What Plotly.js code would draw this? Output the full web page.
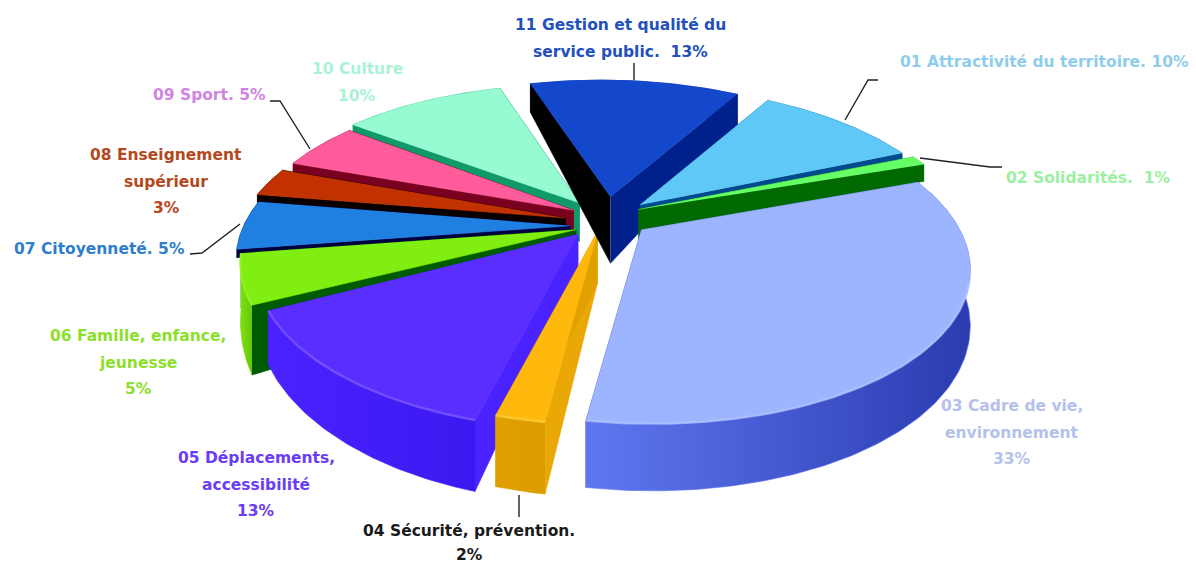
<!DOCTYPE html>
<html>
<head>
<meta charset="utf-8">
<script src="https://cdn.plot.ly/plotly-3.0.1.min.js"></script>
<style>html,body{margin:0;padding:0;background:#fff}#chart{width:1196px;height:565px}</style>
</head>
<body>
<div id="chart"></div>
<script>
// Share of each theme, in percent
const values = [10, 1, 33, 2, 13, 5, 5, 3, 5, 10, 13];
const labels = [
  "01 Attractivité du territoire. {v}",
  "02 Solidarités.  {v}",
  "03 Cadre de vie,|environnement|{v}",
  "04 Sécurité, prévention.|{v}",
  "05 Déplacements,|accessibilité|{v}",
  "06 Famille, enfance,|jeunesse|{v}",
  "07 Citoyenneté. {v}",
  "08 Enseignement|supérieur|{v}",
  "09 Sport. {v}",
  "10 Culture|{v}",
  "11 Gestion et qualité du|service public.  {v}"
];

// Slice styling
const topColors  = ["#5fc8f6","#66ff66","#9db4ff","#ffb80c","#5a2eff","#80ee10","#2080e2","#c23200","#ff5c9c","#96fbd0","#1448cc"];
const textColors = ["#8fcdea","#9df0a2","#b4c1ea","#1a1a1a","#6a3cf5","#8ce02a","#2f7ecb","#b4481c","#d184e2","#a9f2d6","#2350bd"];
const startWall  = ["#004a8f","#006a00","#5a70ea","#eaa806","#4a22ff","#005a00","#000040","#0a0000","#7a0020","#109a6a","#000000"];
const endWall    = ["#004a8f","#006a00","#4a60e0","#e0a000","#4a22ff","#005a00","#000040","#0a0000","#7a0020","#109a6a","#00208c"];
const rimWallA   = ["#004a8f","#006a00","#5f78f0","#e0a000","#4a22ff","#7ee010","#000040","#0a0000","#7a0020","#109a6a","#00208c"];
const rimWallB   = ["#004a8f","#006a00","#2b3bb0","#dc9c00","#3c18f0","#66c808","#000040","#0a0000","#7a0020","#109a6a","#00208c"];
const rimGlow    = [null,null,"#b4c5ff","#ffd040","#7a5cff","#9cf52a",null,null,null,null,null];

// Slice offset inside the pie plane, tip correction, and wall height against plane depth
const shiftU = [0.208, 0.24, 0.19, 0.09, 0.04, -0.012, -0.03, -0.045, -0.02, -0.015, 0.10];
const shiftV = [0.116, 0.085, -0.053, -0.06, -0.08, -0.05, -0.025, 0.027, 0.08, 0.13, 0.175];
const tipU   = [0, -0.038, 0.015, -0.02, -0.03, 0.016, 0.016, 0.016, 0.016, 0.03, 0.015];
const wallBase  = [25, 32, 52, 50, 36, 45, 12, 18, 22, 45, 73.5];
const wallSlope = [22, 36, 14.4, 21, 34, 50, -20, 30, 25, 50, 39.6];

// Back-to-front drawing order
const drawOrder = [9, 8, 7, 6, 5, 4, 3, 10, 0, 1, 2];

// Text anchors: centre x, first line y, line spacing
const labelX = [1044, 1088, 1012, 469, 256, 138, 99, 166, 209, 357, 620];
const labelY = [62, 178, 406, 531, 458, 336, 249, 155, 95, 69, 25];
const lineStep = [26.5, 26.5, 26.5, 24, 26.5, 26.5, 26.5, 26.5, 26.5, 26.5, 27];

// Leader lines
const leaderX = [[845,868,878],[920,990,1002],[519,519],[240,202,190],[310,280,270],[634,634]];
const leaderY = [[120,80,80],[158,167,167],[495,517],[224,253,254],[149,101,101],[63,80]];

// Perspective view of the pie plane
const view = {cx: 575, cy: 222, rx: 320, ry: 150, persp: 0.206, startAngle: 31};
function project(u, v) {
  const s = 1 / (1 + view.persp * v);
  return [view.cx + view.rx * u * s, view.cy - view.ry * v * s];
}

const total = values.reduce((a, b) => a + b, 0);
let running = view.startAngle;
const slices = values.map((val, i) => {
  const a0 = running, a1 = running + val * 360 / total;
  running = a1;
  const rim = [], angles = [];
  const n = Math.max(2, Math.ceil(a1 - a0));
  for (let k = 0; k <= n; k++) {
    const deg = a0 + (a1 - a0) * k / n;
    const a = deg * Math.PI / 180;
    rim.push([Math.sin(a) + shiftU[i], Math.cos(a) + shiftV[i]]);
    angles.push(deg);
  }
  return {rim, angles, apex: [shiftU[i] + tipU[i], shiftV[i]], mid: (a0 + a1) / 2};
});

function wallDrop(i, v) {
  return Math.max(5, wallBase[i] - wallSlope[i] * v);
}
const upper = p => project(p[0], p[1]);
function lower(i, p) {
  const q = project(p[0], p[1]);
  return [q[0], q[1] + wallDrop(i, p[1])];
}

const traces = [];
function polygon(pts, color, gradient) {
  const t = {
    x: pts.map(p => p[0]), y: pts.map(p => p[1]),
    mode: "lines", type: "scatter", fill: "toself", fillcolor: color,
    line: {width: 0.6, color: color}, hoverinfo: "skip", showlegend: false
  };
  if (gradient) {
    t.fillgradient = {type: "horizontal", colorscale: [[0, gradient[0]], [1, gradient[1]]]};
  }
  traces.push(t);
}

drawOrder.forEach(i => {
  const sl = slices[i], r = sl.rim, first = r[0], last = r[r.length - 1];
  const isBack = Math.cos(sl.mid * Math.PI / 180) > 0;
  const drawRimWall = () => polygon(
    r.map(upper).concat(r.slice().reverse().map(p => lower(i, p))),
    rimWallA[i], [rimWallA[i], rimWallB[i]]
  );
  // Curved wall sits behind the cut faces on the far side of the pie, in front on the near side
  if (isBack) drawRimWall();
  polygon([upper(sl.apex), upper(first), lower(i, first), lower(i, sl.apex)], startWall[i]);
  polygon([upper(sl.apex), upper(last), lower(i, last), lower(i, sl.apex)], endWall[i]);
  if (!isBack) drawRimWall();
  // Top face
  polygon([upper(sl.apex)].concat(r.map(upper)), topColors[i]);
  // Soft highlight along the part of the rim that faces the viewer
  if (rimGlow[i]) {
    const line = r.filter((p, k) => sl.angles[k] > 108).map(upper);
    traces.push({
      x: line.map(p => p[0]), y: line.map(p => p[1]), mode: "lines", type: "scatter",
      line: {width: 2.5, color: rimGlow[i]}, opacity: 0.7, hoverinfo: "skip", showlegend: false
    });
  }
});

leaderX.forEach((xs, k) => traces.push({
  x: xs, y: leaderY[k], mode: "lines", type: "scatter",
  line: {width: 1.4, color: "#222"}, hoverinfo: "skip", showlegend: false
}));

const annotations = [];
labels.forEach((txt, i) => {
  txt.replace("{v}", values[i] + "%").split("|").forEach((line, k) => {
    annotations.push({
      x: labelX[i], y: labelY[i] + k * lineStep[i], xref: "x", yref: "y",
      text: line, showarrow: false, xanchor: "center", yanchor: "middle",
      font: {family: "'DejaVu Sans', sans-serif", size: 15.5, color: textColors[i], weight: "bold"}
    });
  });
});

const hidden = {visible: false, fixedrange: true};
Plotly.newPlot("chart", traces, {
  width: 1196, height: 565,
  margin: {l: 0, r: 0, t: 0, b: 0},
  paper_bgcolor: "#fff", plot_bgcolor: "#fff",
  xaxis: Object.assign({range: [0, 1196]}, hidden),
  yaxis: Object.assign({range: [565, 0]}, hidden),
  annotations: annotations,
  showlegend: false
}, {displayModeBar: false, staticPlot: true});
</script>
</body>
</html>
